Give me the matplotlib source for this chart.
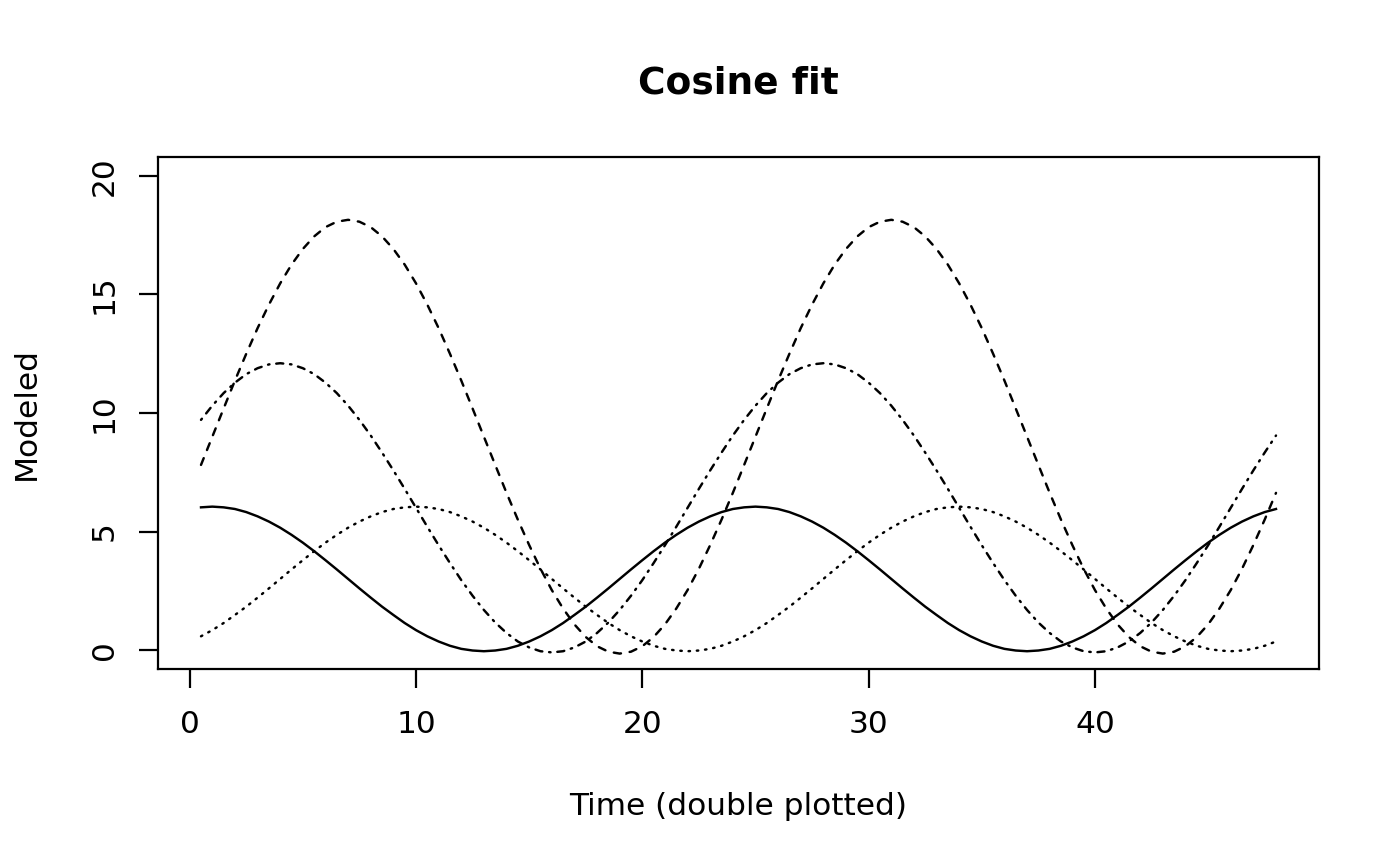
import matplotlib
matplotlib.use("Agg")
import matplotlib.pyplot as plt

# half-hour steps of one day; the chart is double plotted, so day 2 = day 1 + 24
hours = [0.5, 1.0, 1.5, 2.0, 2.5, 3.0, 3.5, 4.0, 4.5, 5.0, 5.5, 6.0,
         6.5, 7.0, 7.5, 8.0, 8.5, 9.0, 9.5, 10.0, 10.5, 11.0, 11.5, 12.0,
         12.5, 13.0, 13.5, 14.0, 14.5, 15.0, 15.5, 16.0, 16.5, 17.0, 17.5, 18.0,
         18.5, 19.0, 19.5, 20.0, 20.5, 21.0, 21.5, 22.0, 22.5, 23.0, 23.5, 24.0]

# modeled values, one list per curve
solid = [6.02, 6.05, 6.02, 5.95, 5.82, 5.64, 5.42, 5.16, 4.86, 4.53, 4.17, 3.79,
         3.40, 3.00, 2.60, 2.21, 1.83, 1.48, 1.14, 0.84, 0.58, 0.36, 0.18, 0.05,
         -0.02, -0.05, -0.02, 0.05, 0.18, 0.36, 0.58, 0.84, 1.14, 1.48, 1.83, 2.21,
         2.60, 3.00, 3.40, 3.79, 4.17, 4.53, 4.86, 5.16, 5.42, 5.64, 5.82, 5.95]
dotted = [0.58, 0.84, 1.14, 1.48, 1.83, 2.21, 2.60, 3.00, 3.40, 3.79, 4.17, 4.53,
          4.86, 5.16, 5.42, 5.64, 5.82, 5.95, 6.02, 6.05, 6.02, 5.95, 5.82, 5.64,
          5.42, 5.16, 4.86, 4.53, 4.17, 3.79, 3.40, 3.00, 2.60, 2.21, 1.83, 1.48,
          1.14, 0.84, 0.58, 0.36, 0.18, 0.05, -0.02, -0.05, -0.02, 0.05, 0.18, 0.36]
dotdash = [9.71, 10.31, 10.84, 11.28, 11.64, 11.89, 12.05, 12.10, 12.05, 11.89, 11.64, 11.28,
           10.84, 10.31, 9.71, 9.05, 8.33, 7.58, 6.80, 6.00, 5.20, 4.42, 3.67, 2.95,
           2.29, 1.69, 1.16, 0.72, 0.36, 0.11, -0.05, -0.10, -0.05, 0.11, 0.36, 0.72,
           1.16, 1.69, 2.29, 2.95, 3.67, 4.42, 5.20, 6.00, 6.80, 7.58, 8.33, 9.05]
dashed = [7.81, 9.00, 10.19, 11.37, 12.50, 13.58, 14.57, 15.47, 16.26, 16.92, 17.45, 17.84,
          18.07, 18.15, 18.07, 17.84, 17.45, 16.92, 16.26, 15.47, 14.57, 13.58, 12.50, 11.37,
          10.19, 9.00, 7.81, 6.63, 5.50, 4.43, 3.43, 2.53, 1.75, 1.08, 0.55, 0.16,
          -0.07, -0.15, -0.07, 0.16, 0.55, 1.08, 1.75, 2.53, 3.43, 4.43, 5.50, 6.63]

x_ticks = [0, 10, 20, 30, 40]
y_ticks = [0, 5, 10, 15, 20]

plt.rcParams['font.family'] = ['DejaVu Sans']

fig = plt.figure(figsize=(14, 8.66), dpi=100)
ax = fig.add_axes([158 / 1400, 1 - 669 / 866, (1319 - 158) / 1400, (669 - 157) / 866])

times = hours + [h + 24 for h in hours]

def double(vals):
    return vals + vals

lw = 1.75
# round caps like R's png device
ax.plot(times, double(solid), color='black', lw=lw, linestyle='-')
ax.plot(times, double(dotted), color='black', lw=lw, linestyle=(0, (0.6, 2.8)),
        dash_capstyle='round')
ax.plot(times, double(dotdash), color='black', lw=lw, linestyle=(0, (0.6, 2.8, 2.9, 2.8)),
        dash_capstyle='round')
ax.plot(times, double(dashed), color='black', lw=lw, linestyle=(0, (3.0, 3.6)),
        dash_capstyle='round')

# R style 4% padding around the data range
ax.set_xlim(0.5 - 0.04 * 47.5, 48 + 0.04 * 47.5)
ax.set_ylim(-0.8, 20.8)
ax.set_xticks(x_ticks)
ax.set_yticks(y_ticks)

for sp in ax.spines.values():
    sp.set_linewidth(1.6)

ax.tick_params(axis='both', direction='out', length=13.7, width=1.6, labelsize=22.5)
ax.tick_params(axis='x', pad=16)
ax.tick_params(axis='y', pad=14.5, labelrotation=90)
for lab in ax.get_yticklabels():
    lab.set_va('center')

ax.set_title('Cosine fit', fontsize=27, fontweight='bold', y=1.125, pad=0)

ax.set_xlabel('Time (double plotted)', fontsize=22.5)
ax.xaxis.set_label_coords(0.5, (669 - 815) / 512)
ax.xaxis.label.set_va('baseline')

ax.set_ylabel('Modeled', fontsize=22.5)
ax.yaxis.set_label_coords((35 - 158) / 1161, 0.5)
ax.yaxis.label.set_va('baseline')

fig.savefig('out.png', dpi=100)
